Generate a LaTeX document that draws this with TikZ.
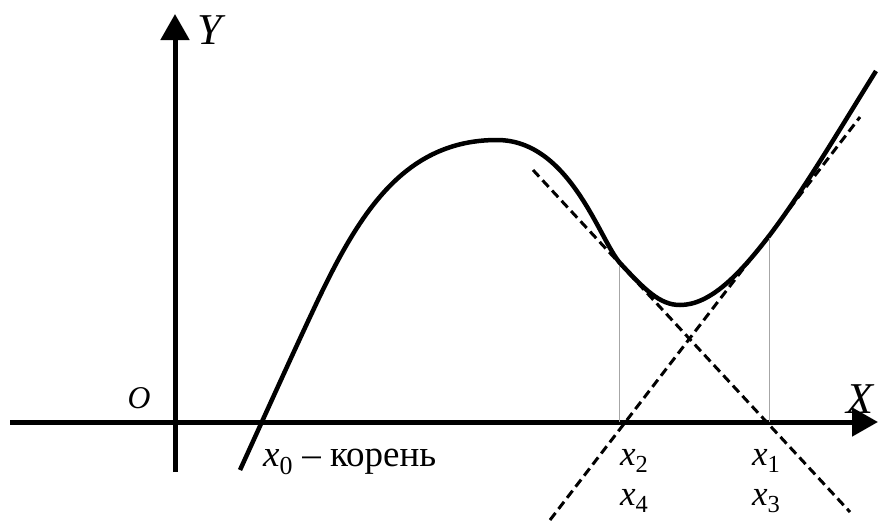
\documentclass[tikz,border=0pt]{standalone}
\usepackage{fontspec}
\setmainfont{Liberation Serif}
\usetikzlibrary{arrows.meta}

\begin{document}
\begin{tikzpicture}[x=1pt, y=-1pt, >={Triangle[length=26pt,width=28pt]},
  axis/.style={line width=5pt, ->},
  curve/.style={line width=4.5pt, line join=round},
  tangent/.style={line width=3pt, dash pattern=on 9pt off 5pt},
  guide/.style={line width=0.8pt, gray!70},
  lbl/.style={inner sep=0pt, font=\fontsize{35}{40}\selectfont, anchor=base west},
  big/.style={inner sep=0pt, font=\fontsize{44}{50}\selectfont\itshape}]
\useasboundingbox (0,0) rectangle (878,520);
% axes, y grows downwards, one unit is one pixel of the sketch
\coordinate (xs) at (10,422);
\coordinate (xe) at (878,422);
\coordinate (ys) at (175,472);
\coordinate (ye) at (175,14);
\draw[axis] (xs) -- (xe);
\draw[axis] (ys) -- (ye);
\node[big] (lY) at (210,30) {Y};
\node[big] (lX) at (860,399) {X};
\node[big, scale=0.72] (lO) at (139,398) {O};
% the function, piece by piece through the tangent points
\draw[curve] (240,470) .. controls (266,413) and (292,355) .. (318,300)
  .. controls (360,212) and (405,140) .. (497,140)
  .. controls (570,140) and (600,241) .. (620,263)
  .. controls (645,290) and (660,305) .. (680,305)
  .. controls (710,305) and (739,275) .. (769,236)
  .. controls (804,190) and (841,127) .. (876,71);
% tangent points and their feet on the axis
\coordinate (t2) at (619,263);
\coordinate (t1) at (769,238);
\coordinate (f2) at (619,422);
\coordinate (f1) at (769,422);
\draw[guide] (t2) -- (f2);
\draw[guide] (t1) -- (f1);
% tangents
\coordinate (a1) at (533,170);
\coordinate (a2) at (850,512);
\coordinate (b1) at (550,520);
\coordinate (b2) at (860,117);
\draw[tangent] (a1) -- (a2);
\draw[tangent] (b1) -- (b2);
% labels under the axis
\node[lbl, font=\fontsize{37}{42}\selectfont] (lx0) at (263,466) {\textit{x}\textsubscript{0} -- корень};
\node[lbl] (lx2) at (620,465) {\textit{x}\textsubscript{2}};
\node[lbl] (lx4) at (620,505) {\textit{x}\textsubscript{4}};
\node[lbl] (lx1) at (752,465) {\textit{x}\textsubscript{1}};
\node[lbl] (lx3) at (752,505) {\textit{x}\textsubscript{3}};
\end{tikzpicture}
\end{document}
